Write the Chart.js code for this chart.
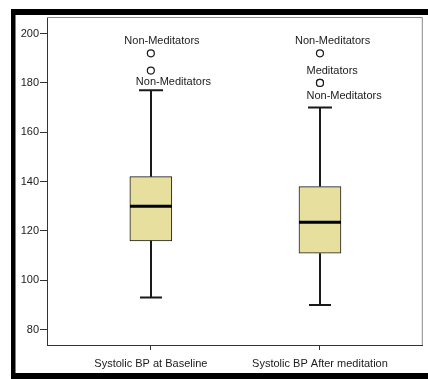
<!DOCTYPE html>
<html>
<head>
<meta charset="utf-8">
<script src="https://cdn.jsdelivr.net/npm/chart.js@4"></script>
<style>
  html, body { margin: 0; padding: 0; background: #fff; }
  #wrap { width: 428px; height: 379px; position: relative; }
</style>
</head>
<body>
<div id="wrap"><canvas id="chart"></canvas></div>
<script>
// data
var categories = ['Systolic BP at Baseline', 'Systolic BP After meditation'];
var whiskerLow = [93, 90];
var q1 = [116, 111];
var median = [130, 123.5];
var q3 = [142, 138];
var whiskerHigh = [177, 170];
var outlierBox = [0, 0, 1, 1, 1];
var outlierValues = [192, 185, 192, 180, 180];
var outlierLabels = ['Non-Meditators', 'Non-Meditators', 'Non-Meditators', 'Meditators', 'Non-Meditators'];
var yTicks = [80, 100, 120, 140, 160, 180, 200];

// where each outlier label sits relative to its circle (left edge, centre line)
var labelOffsets = [[-26.5, -12.5], [-15, 11.5], [-25, -12.5], [-13.5, -12], [-13.5, 13]];

var FONT = 'Liberation Sans, Arial, sans-serif';
var boxFill = '#e6df9e';
var ink = '#1a1a1a';

var boxData = categories.map(function(c, i) {
    return { x: i + 1, y: [q1[i], q3[i]] };
});
var outlierData = outlierValues.map(function(v, i) {
    return { x: outlierBox[i] + 1, y: v };
});

var framePlugin = {
    id: 'frame',
    beforeDraw: function(chart) {
        var ctx = chart.ctx;
        ctx.save();
        ctx.fillStyle = '#fff';
        ctx.fillRect(0, 0, chart.width, chart.height);
        ctx.fillStyle = '#000';
        ctx.fillRect(11, 9, chart.width - 11, 6);
        ctx.fillRect(11, 9, 4.5, chart.height - 9);
        ctx.fillRect(11, 373, chart.width - 11, 6);
        ctx.restore();
    },
    afterDraw: function(chart) {
        var ctx = chart.ctx;
        var a = chart.chartArea;
        ctx.save();
        ctx.strokeStyle = '#8a8a8a';
        ctx.lineWidth = 1;
        ctx.beginPath();
        ctx.moveTo(a.left, a.top + 0.5);
        ctx.lineTo(a.right - 0.5, a.top + 0.5);
        ctx.lineTo(a.right - 0.5, a.bottom);
        ctx.stroke();
        ctx.restore();
    }
};

var boxPlugin = {
    id: 'boxExtras',
    afterDatasetsDraw: function(chart) {
        var ctx = chart.ctx;
        var xs = chart.scales.x;
        var ys = chart.scales.y;
        ctx.save();
        for (var i = 0; i < categories.length; i++) {
            var x = Math.round(xs.getPixelForValue(i + 1));
            ctx.strokeStyle = ink;
            ctx.lineWidth = 2;
            ctx.beginPath();
            ctx.moveTo(x, ys.getPixelForValue(q3[i]));
            ctx.lineTo(x, ys.getPixelForValue(whiskerHigh[i]));
            ctx.moveTo(x, ys.getPixelForValue(q1[i]));
            ctx.lineTo(x, ys.getPixelForValue(whiskerLow[i]));
            ctx.moveTo(x - 12, ys.getPixelForValue(whiskerHigh[i]));
            ctx.lineTo(x + 12, ys.getPixelForValue(whiskerHigh[i]));
            ctx.moveTo(x - 11, ys.getPixelForValue(whiskerLow[i]));
            ctx.lineTo(x + 11, ys.getPixelForValue(whiskerLow[i]));
            ctx.stroke();

            ctx.strokeStyle = '#000';
            ctx.lineWidth = 3;
            ctx.beginPath();
            ctx.moveTo(x - 21, ys.getPixelForValue(median[i]));
            ctx.lineTo(x + 21, ys.getPixelForValue(median[i]));
            ctx.stroke();
        }

        ctx.fillStyle = ink;
        ctx.font = '11px ' + FONT;
        ctx.textAlign = 'left';
        ctx.textBaseline = 'middle';
        for (var j = 0; j < outlierValues.length; j++) {
            var px = xs.getPixelForValue(outlierBox[j] + 1);
            var py = ys.getPixelForValue(outlierValues[j]);
            ctx.fillText(outlierLabels[j], px + labelOffsets[j][0], py + labelOffsets[j][1]);
        }
        ctx.restore();
    }
};

var ctx = document.getElementById('chart').getContext('2d');
var myChart = new Chart(ctx, {
    type: 'bar',
    data: {
        datasets: [
            {
                label: 'box',
                data: boxData,
                backgroundColor: boxFill,
                borderColor: ink,
                borderWidth: 1,
                borderSkipped: false,
                barThickness: 42,
                order: 2
            },
            {
                type: 'scatter',
                label: 'outliers',
                data: outlierData,
                pointRadius: 3.5,
                pointBackgroundColor: '#fff',
                pointBorderColor: ink,
                pointBorderWidth: 1.2,
                order: 1
            }
        ]
    },
    options: {
        responsive: true,
        maintainAspectRatio: false,
        animation: false,
        layout: { padding: { left: 0, top: 17, right: 2, bottom: 6 } },
        plugins: {
            legend: { display: false },
            tooltip: { enabled: false },
            title: { display: false }
        },
        scales: {
            x: {
                type: 'linear',
                offset: false,
                min: 0.386,
                max: 2.608,
                afterBuildTicks: function(scale) {
                    scale.ticks = categories.map(function(c, i) { return { value: i + 1 }; });
                },
                afterFit: function(scale) { scale.height = 28; },
                grid: { offset: false, drawOnChartArea: false, tickLength: 5, color: '#333' },
                border: { color: '#333' },
                ticks: {
                    padding: 7,
                    color: ink,
                    maxRotation: 0,
                    autoSkip: false,
                    font: { family: FONT, size: 11 },
                    callback: function(v, i) { return categories[i]; }
                }
            },
            y: {
                min: 73.8,
                max: 206.7,
                afterBuildTicks: function(scale) {
                    scale.ticks = yTicks.map(function(v) { return { value: v }; });
                },
                afterFit: function(scale) { scale.width = 47; },
                grid: { drawOnChartArea: false, tickLength: 7, color: '#333' },
                border: { color: '#333' },
                ticks: {
                    padding: 1,
                    color: ink,
                    font: { family: FONT, size: 11 }
                }
            }
        }
    },
    plugins: [framePlugin, boxPlugin]
});
</script>
</body>
</html>
